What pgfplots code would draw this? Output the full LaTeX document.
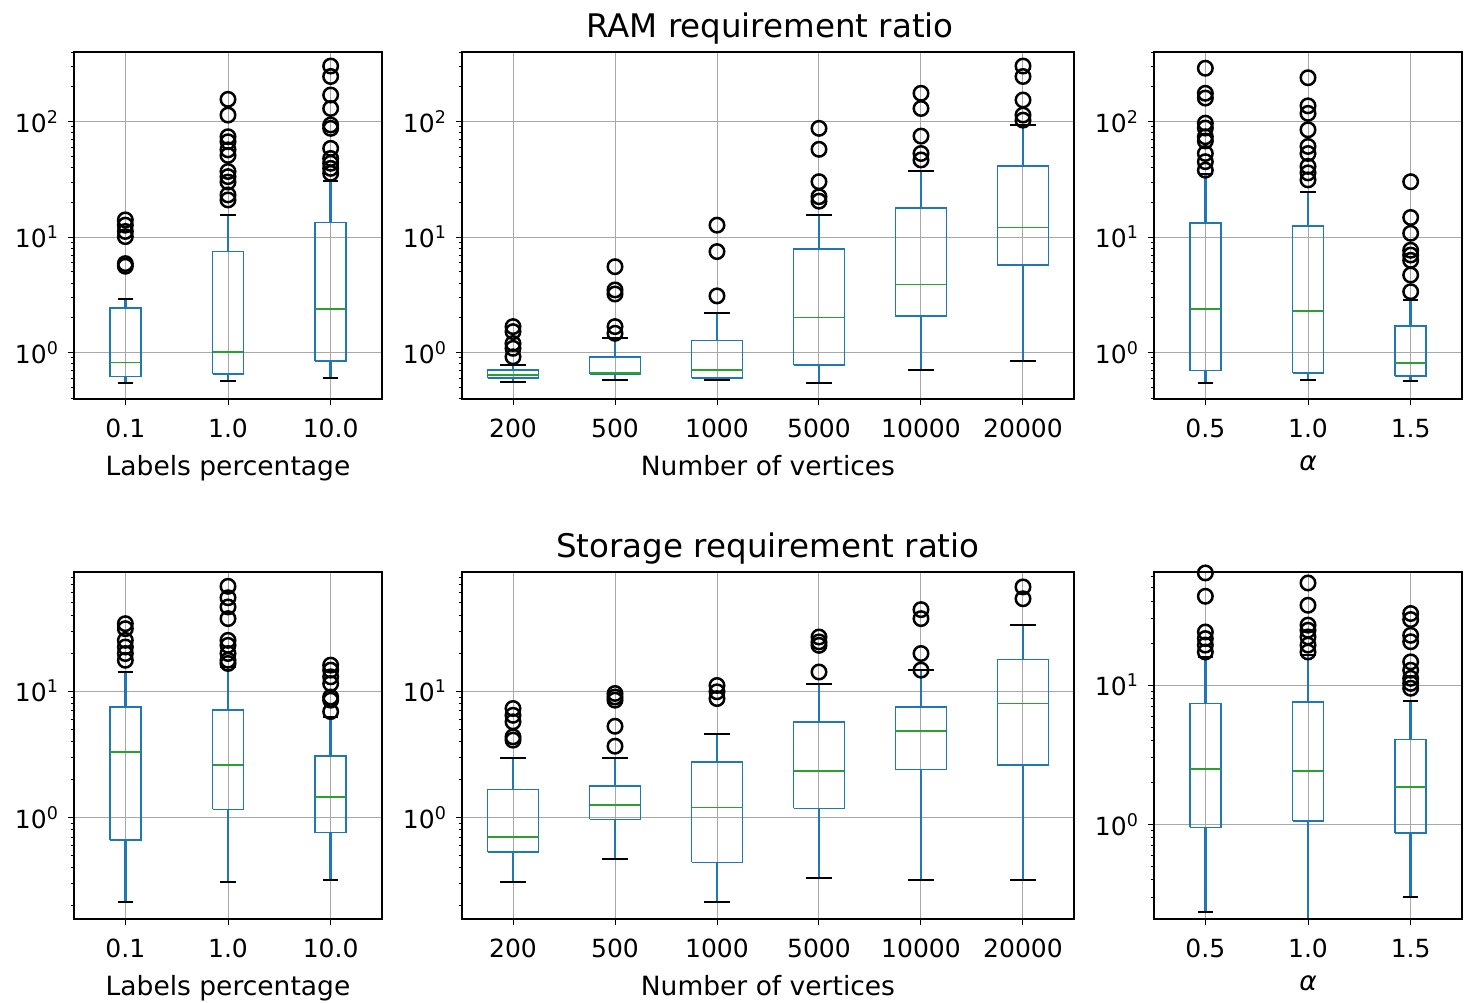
\documentclass[border=0pt]{standalone}
\usepackage{fontspec}
\setmainfont{DejaVu Sans}
\usepackage{pgfplots}
\pgfplotsset{compat=1.18}
\definecolor{cz}{HTML}{1F77B4}
\definecolor{ct}{HTML}{2CA02C}
\definecolor{gr}{HTML}{A8A8A8}
% #1 position, #2 lower whisker, #3 lower quartile, #4 median, #5 upper quartile, #6 upper whisker
\newcommand{\bx}[6]{%
  \pgfmathsetmacro\bxa{#1-\hw}\pgfmathsetmacro\bxb{#1+\hw}%
  \pgfmathsetmacro\bxc{#1-\hw/2}\pgfmathsetmacro\bxd{#1+\hw/2}%
  \addplot[cz, line width=1pt] coordinates {(#1,#2)(#1,#3)};
  \addplot[cz, line width=1pt] coordinates {(#1,#5)(#1,#6)};
  \addplot[black, line width=0.8pt] coordinates {(\bxc,#2)(\bxd,#2)};
  \addplot[black, line width=0.8pt] coordinates {(\bxc,#6)(\bxd,#6)};
  \addplot[cz, line width=0.65pt] coordinates {(\bxa,#3)(\bxb,#3)(\bxb,#5)(\bxa,#5)(\bxa,#3)};
  \addplot[ct, line width=0.7pt] coordinates {(\bxa,#4)(\bxb,#4)};
}
\begin{document}
\begin{tikzpicture}
\useasboundingbox (0,0) rectangle (589.2pt,401.2pt);
% ---------- RAM, labels percentage
\def\hw{0.15}
\begin{axis}[ymode=log, scale only axis, anchor=south west, at={(29.6pt,241.6pt)},
   width=123.2pt, height=138.8pt, xmin=0.5, xmax=3.5, ymin=0.397, ymax=401,
   tick align=outside, tick pos=left, major tick length=2.4pt, minor tick length=1.4pt,
   xmajorgrids, ymajorgrids, grid style={draw=gr, line width=0.4pt},
   axis line style={line width=0.6pt},
   tick style={black, line width=0.4pt},
   tick label style={font=\fontsize{10}{12}\selectfont},
   xticklabel style={yshift=-2.2pt},
   label style={font=\fontsize{10.6}{12}\selectfont},
   xtick={1,2,3}, xticklabels={0.1,1.0,10.0},
   ytick={1,10,100}, yticklabels={10\textsuperscript{0},10\textsuperscript{1},10\textsuperscript{2}},
   minor ytick={0.4,0.5,0.6,0.7,0.8,0.9,2,3,4,5,6,7,8,9,20,30,40,50,60,70,80,90,200,300,400},
   xlabel={Labels percentage}]
\bx{1}{0.55}{0.62}{0.82}{2.45}{2.94}
\bx{2}{0.57}{0.65}{1.02}{7.5}{15.6}
\bx{3}{0.60}{0.85}{2.37}{13.4}{30.8}
\addplot[only marks, mark=o, mark size=2.9pt, black, line width=1pt] coordinates {(1,14.1)(1,12.7)(1,11.2)(1,10.1)(1,5.9)(1,5.6)
 (2,156)(2,114)(2,74)(2,67)(2,57)(2,51)(2,37)(2,33.4)(2,30)(2,23.2)(2,21)
 (3,303)(3,246)(3,170)(3,130)(3,93.6)(3,87.5)(3,58.7)(3,48)(3,43.6)(3,39.4)(3,35.7)};
\end{axis}
% ---------- RAM, vertices
\def\hw{0.25}
\begin{axis}[ymode=log, scale only axis, anchor=south west, at={(184.8pt,241.6pt)},
   width=244.8pt, height=138.8pt, xmin=0.5, xmax=6.5, ymin=0.397, ymax=401,
   tick align=outside, tick pos=left, major tick length=2.4pt, minor tick length=1.4pt,
   xmajorgrids, ymajorgrids, grid style={draw=gr, line width=0.4pt},
   axis line style={line width=0.6pt},
   tick style={black, line width=0.4pt},
   tick label style={font=\fontsize{10}{12}\selectfont},
   xticklabel style={yshift=-2.2pt},
   label style={font=\fontsize{10.6}{12}\selectfont},
   xtick={1,2,3,4,5,6}, xticklabels={200,500,1000,5000,10000,20000},
   ytick={1,10,100}, yticklabels={10\textsuperscript{0},10\textsuperscript{1},10\textsuperscript{2}},
   minor ytick={0.4,0.5,0.6,0.7,0.8,0.9,2,3,4,5,6,7,8,9,20,30,40,50,60,70,80,90,200,300,400},
   xlabel={Number of vertices}]
\bx{1}{0.56}{0.60}{0.64}{0.71}{0.78}
\bx{2}{0.58}{0.65}{0.67}{0.92}{1.33}
\bx{3}{0.58}{0.60}{0.71}{1.27}{2.22}
\bx{4}{0.55}{0.78}{2.01}{7.9}{15.6}
\bx{5}{0.71}{2.08}{3.9}{17.8}{37.4}
\bx{6}{0.84}{5.74}{12.1}{41.3}{93.5}
\addplot[only marks, mark=o, mark size=2.9pt, black, line width=1pt] coordinates {(1,1.68)(1,1.52)(1,1.2)(1,1.09)(1,0.92)
 (2,5.55)(2,3.49)(2,3.22)(2,1.68)(2,1.47)
 (3,12.7)(3,7.5)(3,3.1)
 (4,87.5)(4,57.6)(4,30.2)(4,22.4)(4,20.5)
 (5,176)(5,130)(5,75)(5,53)(5,46.6)
 (6,303)(6,246)(6,154)(6,114)(6,103)};
\end{axis}
% ---------- RAM, alpha
\def\hw{0.15}
\begin{axis}[ymode=log, scale only axis, anchor=south west, at={(461.6pt,241.6pt)},
   width=123.2pt, height=138.8pt, xmin=0.5, xmax=3.5, ymin=0.397, ymax=401,
   tick align=outside, tick pos=left, major tick length=2.4pt, minor tick length=1.4pt,
   xmajorgrids, ymajorgrids, grid style={draw=gr, line width=0.4pt},
   axis line style={line width=0.6pt},
   tick style={black, line width=0.4pt},
   tick label style={font=\fontsize{10}{12}\selectfont},
   xticklabel style={yshift=-2.2pt},
   label style={font=\fontsize{10.6}{12}\selectfont},
   xtick={1,2,3}, xticklabels={0.5,1.0,1.5},
   ytick={1,10,100}, yticklabels={10\textsuperscript{0},10\textsuperscript{1},10\textsuperscript{2}},
   minor ytick={0.4,0.5,0.6,0.7,0.8,0.9,2,3,4,5,6,7,8,9,20,30,40,50,60,70,80,90,200,300,400},
   xlabel={\textit{α}}]
\bx{1}{0.55}{0.70}{2.37}{13.2}{35}
\bx{2}{0.58}{0.67}{2.29}{12.5}{24.4}
\bx{3}{0.57}{0.63}{0.81}{1.70}{2.86}
\addplot[only marks, mark=o, mark size=2.9pt, black, line width=1pt] coordinates {(1,290)(1,176)(1,160)(1,97)(1,88)(1,74)(1,68)(1,53)(1,45)(1,38)
 (2,240)(2,137)(2,118)(2,85)(2,61)(2,53)(2,41)(2,36)(2,31.3)
 (3,30.2)(3,14.8)(3,10.8)(3,7.7)(3,7.0)(3,6.3)(3,4.7)(3,3.37)};
\end{axis}
% ---------- Storage, labels percentage
\begin{axis}[ymode=log, scale only axis, anchor=south west, at={(29.6pt,33.6pt)},
   width=123.2pt, height=138.8pt, xmin=0.5, xmax=3.5, ymin=0.157, ymax=88,
   tick align=outside, tick pos=left, major tick length=2.4pt, minor tick length=1.4pt,
   xmajorgrids, ymajorgrids, grid style={draw=gr, line width=0.4pt},
   axis line style={line width=0.6pt},
   tick style={black, line width=0.4pt},
   tick label style={font=\fontsize{10}{12}\selectfont},
   xticklabel style={yshift=-2.2pt},
   label style={font=\fontsize{10.6}{12}\selectfont},
   xtick={1,2,3}, xticklabels={0.1,1.0,10.0},
   ytick={1,10}, yticklabels={10\textsuperscript{0},10\textsuperscript{1}},
   minor ytick={0.2,0.3,0.4,0.5,0.6,0.7,0.8,0.9,2,3,4,5,6,7,8,9,20,30,40,50,60,70,80},
   xlabel={Labels percentage}]
\bx{1}{0.215}{0.66}{3.31}{7.5}{14.1}
\bx{2}{0.31}{1.16}{2.6}{7.07}{15.6}
\bx{3}{0.32}{0.76}{1.46}{3.08}{6.26}
\addplot[only marks, mark=o, mark size=2.9pt, black, line width=1pt] coordinates {(1,34.3)(1,31.3)(1,25.3)(1,22.4)(1,19.9)(1,17.6)
 (2,67.8)(2,55)(2,46.5)(2,37.6)(2,25.3)(2,23.1)(2,19.9)(2,17.6)(2,16.6)
 (3,16.1)(3,14.7)(3,13)(3,11.5)(3,9.0)(3,8.5)(3,6.9)};
\end{axis}
% ---------- Storage, vertices
\def\hw{0.25}
\begin{axis}[ymode=log, scale only axis, anchor=south west, at={(184.8pt,33.6pt)},
   width=244.8pt, height=138.8pt, xmin=0.5, xmax=6.5, ymin=0.157, ymax=88,
   tick align=outside, tick pos=left, major tick length=2.4pt, minor tick length=1.4pt,
   xmajorgrids, ymajorgrids, grid style={draw=gr, line width=0.4pt},
   axis line style={line width=0.6pt},
   tick style={black, line width=0.4pt},
   tick label style={font=\fontsize{10}{12}\selectfont},
   xticklabel style={yshift=-2.2pt},
   label style={font=\fontsize{10.6}{12}\selectfont},
   xtick={1,2,3,4,5,6}, xticklabels={200,500,1000,5000,10000,20000},
   ytick={1,10}, yticklabels={10\textsuperscript{0},10\textsuperscript{1}},
   minor ytick={0.2,0.3,0.4,0.5,0.6,0.7,0.8,0.9,2,3,4,5,6,7,8,9,20,30,40,50,60,70,80},
   xlabel={Number of vertices}]
\bx{1}{0.31}{0.535}{0.70}{1.67}{2.97}
\bx{2}{0.47}{0.965}{1.25}{1.77}{2.97}
\bx{3}{0.215}{0.44}{1.2}{2.76}{4.62}
\bx{4}{0.33}{1.18}{2.34}{5.72}{11.5}
\bx{5}{0.32}{2.4}{4.85}{7.5}{14.8}
\bx{6}{0.32}{2.6}{7.98}{17.9}{33.3}
\addplot[only marks, mark=o, mark size=2.9pt, black, line width=1pt] coordinates {(1,7.3)(1,6.45)(1,5.72)(1,4.35)(1,4.1)
 (2,9.6)(2,9.0)(2,8.5)(2,5.28)(2,3.67)
 (3,11.1)(3,9.9)(3,8.75)
 (4,26.9)(4,24.6)(4,23.1)(4,14.2)
 (5,44.3)(5,37.6)(5,19.9)(5,14.7)
 (6,67)(6,54)};
\end{axis}
% ---------- Storage, alpha
\def\hw{0.15}
\begin{axis}[ymode=log, scale only axis, anchor=south west, at={(461.6pt,33.6pt)},
   width=123.2pt, height=138.8pt, xmin=0.5, xmax=3.5, ymin=0.209, ymax=65,
   tick align=outside, tick pos=left, major tick length=2.4pt, minor tick length=1.4pt,
   xmajorgrids, ymajorgrids, grid style={draw=gr, line width=0.4pt},
   axis line style={line width=0.6pt},
   tick style={black, line width=0.4pt},
   tick label style={font=\fontsize{10}{12}\selectfont},
   xticklabel style={yshift=-2.2pt},
   label style={font=\fontsize{10.6}{12}\selectfont},
   xtick={1,2,3}, xticklabels={0.5,1.0,1.5},
   ytick={1,10}, yticklabels={10\textsuperscript{0},10\textsuperscript{1}},
   minor ytick={0.2,0.3,0.4,0.5,0.6,0.7,0.8,0.9,2,3,4,5,6,7,8,9,20,30,40,50,60},
   xlabel={\textit{α}}]
\bx{1}{0.236}{0.95}{2.5}{7.39}{16}
\bx{2}{0.21}{1.06}{2.43}{7.6}{16.4}
\bx{3}{0.30}{0.87}{1.86}{4.07}{7.72}
\addplot[only marks, mark=o, mark size=2.9pt, black, line width=1pt] coordinates {(1,64)(1,43.5)(1,24.1)(1,21.6)(1,19.4)(1,17.3)
 (2,54.2)(2,37.5)(2,27)(2,24.8)(2,22.2)(2,19.4)(2,17.3)
 (3,32.7)(3,29.6)(3,22.8)(3,20.5)(3,14.7)(3,12.8)(3,11.2)(3,10.3)(3,9.5)};
\end{axis}
\node[font=\fontsize{13}{15}\selectfont] at (308pt,389.6pt) {RAM requirement ratio};
\node[font=\fontsize{13}{15}\selectfont] at (307.2pt,181.8pt) {Storage requirement ratio};
\end{tikzpicture}
\end{document}
